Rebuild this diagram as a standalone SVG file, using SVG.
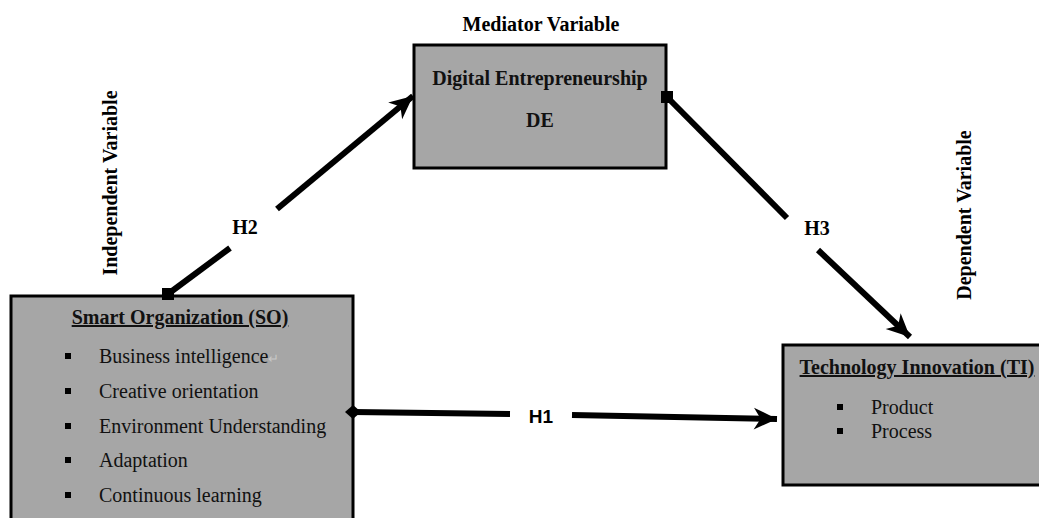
<svg xmlns="http://www.w3.org/2000/svg" width="1039" height="518" viewBox="0 0 1039 518">
<style>
.box{fill:#a6a6a6;stroke:#000;stroke-width:3}
.b{font-family:"Liberation Serif","Times New Roman",serif;font-weight:bold;font-size:20px;fill:#111}
.r{font-family:"Liberation Serif","Times New Roman",serif;font-size:20px;fill:#111}
.h{font-family:"Liberation Serif","Times New Roman",serif;font-weight:bold;font-size:20px;fill:#000}
.hs{font-family:"Liberation Sans",Arial,sans-serif;font-weight:bold;font-size:19px;fill:#000}
.c{stroke:#000;stroke-width:6;fill:none}
.bul{fill:#000}
</style>
<defs>
<marker id="arr" markerUnits="userSpaceOnUse" markerWidth="30" markerHeight="30" viewBox="-20 -10 22 20" refX="0" refY="0" orient="auto">
<path d="M0,0 L-17,-8 L-12,0 L-17,8 Z" fill="#000"/>
</marker>
<marker id="sq" markerUnits="userSpaceOnUse" markerWidth="16" markerHeight="16" viewBox="-8 -8 16 16" refX="0" refY="0" orient="0">
<rect x="-6" y="-6" width="12" height="12" fill="#000"/>
</marker>
<marker id="dia" markerUnits="userSpaceOnUse" markerWidth="20" markerHeight="20" viewBox="-10 -10 20 20" refX="0" refY="0" orient="auto">
<path d="M-8,0 L0,-7 L8,0 L0,7 Z" fill="#000"/>
</marker>
</defs>

<g id="labels">
<text class="h" x="541" y="31" text-anchor="middle">Mediator Variable</text>
<text class="h" transform="translate(117,183) rotate(-90)" text-anchor="middle">Independent Variable</text>
<text class="h" transform="translate(971,215) rotate(-90)" text-anchor="middle">Dependent Variable</text>
</g>

<g id="node-de">
<rect class="box" x="414" y="45" width="252" height="123"/>
<text class="b" x="540" y="85" text-anchor="middle">Digital Entrepreneurship</text>
<text class="b" x="540" y="127" text-anchor="middle">DE</text>
</g>

<g id="node-so">
<rect class="box" x="11" y="296" width="342" height="240"/>
<text class="b" x="180" y="324" text-anchor="middle" text-decoration="underline">Smart Organization (SO)</text>
<rect class="bul" x="65" y="353" width="6" height="6"/>
<text class="r" x="99" y="363">Business intelligence<tspan fill="#c8c8c8" font-size="13">↵</tspan></text>
<rect class="bul" x="65" y="388" width="6" height="6"/>
<text class="r" x="99" y="398">Creative orientation</text>
<rect class="bul" x="65" y="423" width="6" height="6"/>
<text class="r" x="99" y="433">Environment Understanding</text>
<rect class="bul" x="65" y="457" width="6" height="6"/>
<text class="r" x="99" y="467">Adaptation</text>
<rect class="bul" x="65" y="492" width="6" height="6"/>
<text class="r" x="99" y="502">Continuous learning</text>
</g>

<g id="node-ti">
<rect class="box" x="783" y="345" width="260" height="140"/>
<text class="b" x="917" y="374" text-anchor="middle" text-decoration="underline">Technology Innovation (TI)</text>
<rect class="bul" x="837" y="404" width="6" height="6"/>
<text class="r" x="871" y="414">Product</text>
<rect class="bul" x="837" y="428" width="6" height="6"/>
<text class="r" x="871" y="438">Process</text>
</g>

<g id="connectors">
<line class="c" x1="168" y1="294" x2="230" y2="248" marker-start="url(#sq)"/>
<line class="c" x1="277" y1="209" x2="413" y2="96" marker-end="url(#arr)"/>
<text class="h" x="245" y="234" text-anchor="middle">H2</text>
<line class="c" x1="667" y1="97" x2="787" y2="218" stroke-width="5" marker-start="url(#sq)"/>
<line class="c" x1="818" y1="250" x2="910" y2="337" stroke-width="5" marker-end="url(#arr)"/>
<text class="h" x="817" y="235" text-anchor="middle">H3</text>
<line class="c" x1="353" y1="412" x2="510" y2="414" marker-start="url(#dia)"/>
<line class="c" x1="572" y1="415" x2="777" y2="419" marker-end="url(#arr)"/>
<text class="hs" x="541" y="423" text-anchor="middle">H1</text>
</g>
</svg>
